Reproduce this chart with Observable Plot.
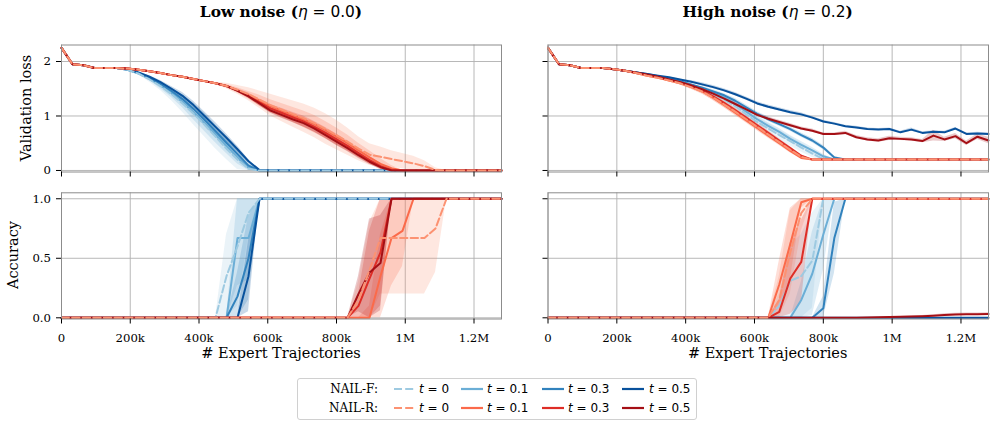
<!DOCTYPE html>
<html><head><meta charset="utf-8">
<script src="https://cdn.jsdelivr.net/npm/d3@7"></script>
<script src="https://cdn.jsdelivr.net/npm/@observablehq/plot@0.6"></script>
<style>
body{margin:0;background:#fff;}
#wrap{position:relative;width:995px;height:428px;overflow:hidden;font-family:"DejaVu Serif",serif;color:#000;}
.panel{position:absolute;}
.panel text{font-family:"DejaVu Serif",serif;}
.title{position:absolute;top:3px;transform:translateX(-50%);white-space:nowrap;font:bold 15.4px "DejaVu Serif";}
.math{font-family:"DejaVu Sans";font-weight:normal;}
.xlab{position:absolute;top:345px;transform:translateX(-50%);white-space:nowrap;font:14.5px "DejaVu Serif";}
.ylab{position:absolute;white-space:nowrap;font:14.5px "DejaVu Serif";line-height:1;transform:translate(-50%,-50%) rotate(-90deg);}
#legend{position:absolute;left:297px;top:378px;width:400px;height:42px;border:1px solid #d0d0d0;border-radius:3px;box-sizing:border-box;}
.lg{position:absolute;white-space:nowrap;font-size:12px;line-height:1;transform:translateY(-50%);}
.lgm{font-family:"DejaVu Sans";}
</style></head>
<body><div id="wrap"></div>
<script>
// ---------- x grid (thousands of expert trajectories) ----------
const xK = [0,32,64,96,128,160,192,224,256,288,
  320,352,384,416,448,480,512,544,576,608,
  640,672,704,736,768,800,832,864,896,928,
  960,992,1024,1056,1088,1120,1152,1184,1216,1248,
  1280];
const xTicks = [0,200000,400000,600000,800000,1000000,1200000];
const xTickLabels = ["0","200k","400k","600k","800k","1M","1.2M"];
const lossTicks = [0,1,2];
const lossTickLabels = ["0","1","2"];
const accTicks = [0,0.5,1];
const accTickLabels = ["0.0","0.5","1.0"];
const tValues = ["0","0.1","0.3","0.5"];
const methods = ["NAIL-F:","NAIL-R:"];
const colorsF = ["#9ecae1","#6baed6","#3182bd","#08519c"];
const colorsR = ["#fc9272","#fb6a4a","#de2d26","#a50f15"];

// ---------- Low noise: validation loss ----------
const lossLoF0 = [2.25,1.95,1.93,1.88,1.88,1.88,1.85,1.78,1.67,1.55,
  1.40,1.23,1.04,0.84,0.62,0.40,0.20,0.03,0,0,
  0,0,0,0,0,0,0,0,0,0, 0,0,0,0,0,0,0,0,0,0, 0];
const lossLoF1 = [2.25,1.95,1.93,1.88,1.88,1.88,1.85,1.78,1.68,1.56,
  1.42,1.26,1.07,0.87,0.66,0.45,0.24,0.05,0,0,
  0,0,0,0,0,0,0,0,0,0, 0,0,0,0,0,0,0,0,0,0, 0];
const lossLoF3 = [2.25,1.95,1.93,1.88,1.88,1.88,1.85,1.79,1.70,1.59,
  1.46,1.31,1.13,0.93,0.72,0.51,0.30,0.09,0,0,
  0,0,0,0,0,0,0,0,0,0, 0,0,0,0,0,0,0,0,0,0, 0];
const lossLoF5 = [2.25,1.95,1.93,1.88,1.88,1.88,1.86,1.80,1.72,1.62,
  1.50,1.37,1.20,1.00,0.80,0.60,0.39,0.17,0.01,0,
  0,0,0,0,0,0,0,0,0,0, 0,0,0,0,0,0,0,0,0,0, 0];
const lossLoF0sd = [0,0,0,0,0,0,0,0.02,0.05,0.08,
  0.12,0.16,0.20,0.22,0.22,0.20,0.18,0.10,0.02,0,
  0,0,0,0,0,0,0,0,0,0, 0,0,0,0,0,0,0,0,0,0, 0];
const lossLoF1sd = [0,0,0,0,0,0,0,0.01,0.03,0.06,
  0.08,0.11,0.14,0.15,0.15,0.14,0.12,0.07,0.01,0,
  0,0,0,0,0,0,0,0,0,0, 0,0,0,0,0,0,0,0,0,0, 0];
const lossLoF3sd = [0,0,0,0,0,0,0,0.01,0.02,0.04,
  0.06,0.08,0.10,0.11,0.11,0.10,0.09,0.05,0.01,0,
  0,0,0,0,0,0,0,0,0,0, 0,0,0,0,0,0,0,0,0,0, 0];
const lossLoF5sd = [0,0,0,0,0,0,0,0,0.02,0.03,
  0.04,0.06,0.07,0.08,0.08,0.07,0.06,0.03,0,0,
  0,0,0,0,0,0,0,0,0,0, 0,0,0,0,0,0,0,0,0,0, 0];
const lossLoR0 = [2.25,1.95,1.93,1.88,1.88,1.88,1.87,1.85,1.82,1.79,
  1.75,1.72,1.68,1.64,1.60,1.55,1.48,1.40,1.30,1.20,
  1.12,1.04,0.96,0.87,0.76,0.65,0.53,0.40,0.29,0.25,
  0.21,0.17,0.13,0.08,0.01,0,0,0,0,0, 0];
const lossLoR1 = [2.25,1.95,1.93,1.88,1.88,1.88,1.87,1.85,1.82,1.79,
  1.75,1.72,1.68,1.64,1.60,1.55,1.47,1.38,1.28,1.18,
  1.10,1.02,0.94,0.85,0.74,0.62,0.50,0.37,0.24,0.12,
  0.04,0,0,0,0,0,0,0,0,0, 0];
const lossLoR3 = [2.25,1.95,1.93,1.88,1.88,1.88,1.87,1.85,1.82,1.79,
  1.75,1.72,1.68,1.64,1.60,1.55,1.47,1.37,1.25,1.14,
  1.06,0.98,0.90,0.80,0.69,0.57,0.45,0.32,0.19,0.08,
  0.01,0,0,0,0,0,0,0,0,0, 0];
const lossLoR5 = [2.25,1.95,1.93,1.88,1.88,1.88,1.87,1.85,1.82,1.79,
  1.75,1.72,1.68,1.64,1.60,1.55,1.46,1.36,1.23,1.10,
  1.02,0.94,0.87,0.77,0.65,0.53,0.41,0.28,0.16,0.06,
  0,0,0,0,0,0,0,0,0,0, 0];
const lossLoR0sd = [0,0,0,0,0,0,0,0,0,0,
  0,0,0,0,0.02,0.05,0.08,0.12,0.16,0.20,
  0.22,0.24,0.26,0.27,0.28,0.27,0.25,0.22,0.20,0.18,
  0.15,0.14,0.13,0.10,0.04,0,0,0,0,0, 0];
const lossLoR1sd = [0,0,0,0,0,0,0,0,0,0,
  0,0,0,0,0,0.03,0.05,0.07,0.10,0.12,
  0.13,0.14,0.15,0.16,0.16,0.16,0.15,0.13,0.12,0.10,
  0.05,0,0,0,0,0,0,0,0,0, 0];
const lossLoR3sd = [0,0,0,0,0,0,0,0,0,0,
  0,0,0,0,0,0,0.03,0.05,0.06,0.07,
  0.08,0.09,0.10,0.10,0.10,0.10,0.09,0.08,0.07,0.05,
  0.01,0,0,0,0,0,0,0,0,0, 0];
const lossLoR5sd = [0,0,0,0,0,0,0,0,0,0,
  0,0,0,0,0,0,0.02,0.03,0.04,0.05,
  0.06,0.06,0.07,0.07,0.07,0.07,0.06,0.06,0.05,0.04,
  0,0,0,0,0,0,0,0,0,0, 0];

// ---------- Low noise: accuracy ----------
const accLoF0 = [0,0,0,0,0,0,0,0,0,0, 0,0,0,0,0,0.35,0.60,0.88,1,1,
  1,1,1,1,1,1,1,1,1,1, 1,1,1,1,1,1,1,1,1,1, 1];
const accLoF1 = [0,0,0,0,0,0,0,0,0,0, 0,0,0,0,0,0,0.67,0.67,1,1,
  1,1,1,1,1,1,1,1,1,1, 1,1,1,1,1,1,1,1,1,1, 1];
const accLoF3 = [0,0,0,0,0,0,0,0,0,0, 0,0,0,0,0,0,0.18,0.50,1,1,
  1,1,1,1,1,1,1,1,1,1, 1,1,1,1,1,1,1,1,1,1, 1];
const accLoF5 = [0,0,0,0,0,0,0,0,0,0, 0,0,0,0,0,0,0,0.35,1,1,
  1,1,1,1,1,1,1,1,1,1, 1,1,1,1,1,1,1,1,1,1, 1];
const accLoF0sd = [0,0,0,0,0,0,0,0,0,0, 0,0,0,0,0,0.35,0.50,0.20,0,0,
  0,0,0,0,0,0,0,0,0,0, 0,0,0,0,0,0,0,0,0,0, 0];
const accLoF1sd = [0,0,0,0,0,0,0,0,0,0, 0,0,0,0,0,0,0.40,0.35,0,0,
  0,0,0,0,0,0,0,0,0,0, 0,0,0,0,0,0,0,0,0,0, 0];
const accLoF3sd = [0,0,0,0,0,0,0,0,0,0, 0,0,0,0,0,0,0.20,0.35,0,0,
  0,0,0,0,0,0,0,0,0,0, 0,0,0,0,0,0,0,0,0,0, 0];
const accLoF5sd = [0,0,0,0,0,0,0,0,0,0, 0,0,0,0,0,0,0,0.30,0,0,
  0,0,0,0,0,0,0,0,0,0, 0,0,0,0,0,0,0,0,0,0, 0];
const accLoR0 = [0,0,0,0,0,0,0,0,0,0, 0,0,0,0,0,0,0,0,0,0,
  0,0,0,0,0,0,0,0.15,0.40,0.67, 0.67,0.67,0.67,0.67,0.75,1,1,1,1,1, 1];
const accLoR1 = [0,0,0,0,0,0,0,0,0,0, 0,0,0,0,0,0,0,0,0,0,
  0,0,0,0,0,0,0,0,0,0.35, 0.67,0.73,1,1,1,1,1,1,1,1, 1];
const accLoR3 = [0,0,0,0,0,0,0,0,0,0, 0,0,0,0,0,0,0,0,0,0,
  0,0,0,0,0,0,0,0.10,0.33,0.55, 1,1,1,1,1,1,1,1,1,1, 1];
const accLoR5 = [0,0,0,0,0,0,0,0,0,0, 0,0,0,0,0,0,0,0,0,0,
  0,0,0,0,0,0,0,0.20,0.38,0.46, 1,1,1,1,1,1,1,1,1,1, 1];
const accLoR0sd = [0,0,0,0,0,0,0,0,0,0, 0,0,0,0,0,0,0,0,0,0,
  0,0,0,0,0,0,0,0.15,0.40,0.47, 0.47,0.47,0.47,0.47,0.37,0,0,0,0,0, 0];
const accLoR1sd = [0,0,0,0,0,0,0,0,0,0, 0,0,0,0,0,0,0,0,0,0,
  0,0,0,0,0,0,0,0,0.10,0.35, 0.40,0.30,0,0,0,0,0,0,0,0, 0];
const accLoR3sd = [0,0,0,0,0,0,0,0,0,0, 0,0,0,0,0,0,0,0,0,0,
  0,0,0,0,0,0,0,0.10,0.40,0.45, 0,0,0,0,0,0,0,0,0,0, 0];
const accLoR5sd = [0,0,0,0,0,0,0,0,0,0, 0,0,0,0,0,0,0,0,0,0,
  0,0,0,0,0,0,0,0.15,0.45,0.40, 0,0,0,0,0,0,0,0,0,0, 0];

// ---------- High noise: validation loss ----------
const lossHiF0 = [2.25,1.95,1.93,1.88,1.88,1.88,1.86,1.83,1.79,1.75,
  1.71,1.66,1.60,1.54,1.48,1.40,1.30,1.18,1.03,0.89,
  0.77,0.65,0.54,0.42,0.31,0.21,0.20,0.20,0.20,0.20,
  0.20,0.20,0.20,0.20,0.20,0.20,0.20,0.20,0.20,0.20, 0.20];
const lossHiF1 = [2.25,1.95,1.93,1.88,1.88,1.88,1.86,1.83,1.80,1.76,
  1.72,1.68,1.63,1.57,1.50,1.42,1.34,1.22,1.08,0.94,
  0.82,0.71,0.58,0.47,0.37,0.26,0.20,0.20,0.20,0.20,
  0.20,0.20,0.20,0.20,0.20,0.20,0.20,0.20,0.20,0.20, 0.20];
const lossHiF3 = [2.25,1.95,1.93,1.88,1.88,1.88,1.86,1.83,1.80,1.77,
  1.73,1.69,1.64,1.58,1.52,1.45,1.38,1.28,1.16,1.04,
  0.94,0.85,0.76,0.65,0.55,0.42,0.24,0.20,0.20,0.20,
  0.20,0.20,0.20,0.20,0.20,0.20,0.20,0.20,0.20,0.20, 0.20];
const lossHiF5 = [2.25,1.95,1.93,1.88,1.88,1.88,1.86,1.83,1.80,1.77,
  1.74,1.71,1.67,1.63,1.58,1.53,1.47,1.40,1.32,1.23,
  1.17,1.12,1.07,1.03,0.97,0.90,0.86,0.81,0.79,0.76,
  0.75,0.76,0.70,0.75,0.69,0.71,0.70,0.77,0.67,0.68, 0.67];
const lossHiF0sd = [0,0,0,0,0,0,0,0,0,0,
  0,0,0.02,0.03,0.04,0.05,0.06,0.07,0.08,0.09,
  0.09,0.09,0.09,0.08,0.07,0.04,0,0,0,0,
  0,0,0,0,0,0,0,0,0,0, 0];
const lossHiF1sd = [0,0,0,0,0,0,0,0,0,0,
  0,0,0,0,0.03,0.04,0.05,0.06,0.06,0.06,
  0.06,0.06,0.06,0.06,0.05,0.04,0,0,0,0,
  0,0,0,0,0,0,0,0,0,0, 0];
const lossHiF3sd = [0,0,0,0,0,0,0,0,0,0,
  0,0,0,0,0.02,0.03,0.03,0.04,0.04,0.04,
  0.04,0.04,0.04,0.04,0.04,0.04,0.02,0,0,0,
  0,0,0,0,0,0,0,0,0,0, 0];
const lossHiF5sd = [0,0,0,0,0,0,0,0,0,0,
  0,0,0,0.02,0.03,0.03,0.03,0.03,0.03,0.03,
  0.03,0.03,0.03,0.03,0.02,0.02,0.02,0.02,0.02,0.02,
  0.02,0.02,0.02,0.03,0.02,0.02,0.02,0.02,0.02,0.02, 0.02];
const lossHiR0 = [2.25,1.95,1.93,1.88,1.88,1.88,1.86,1.83,1.79,1.74,
  1.70,1.65,1.60,1.53,1.45,1.34,1.21,1.08,0.94,0.80,
  0.66,0.52,0.38,0.25,0.20,0.20,0.20,0.20,0.20,0.20,
  0.20,0.20,0.20,0.20,0.20,0.20,0.20,0.20,0.20,0.20, 0.20];
const lossHiR1 = [2.25,1.95,1.93,1.88,1.88,1.88,1.86,1.83,1.79,1.74,
  1.70,1.65,1.60,1.53,1.45,1.33,1.20,1.06,0.92,0.78,
  0.64,0.50,0.36,0.23,0.20,0.20,0.20,0.20,0.20,0.20,
  0.20,0.20,0.20,0.20,0.20,0.20,0.20,0.20,0.20,0.20, 0.20];
const lossHiR3 = [2.25,1.95,1.93,1.88,1.88,1.88,1.86,1.83,1.79,1.75,
  1.71,1.66,1.62,1.56,1.47,1.36,1.24,1.11,0.97,0.83,
  0.69,0.55,0.41,0.27,0.20,0.20,0.20,0.20,0.20,0.20,
  0.20,0.20,0.20,0.20,0.20,0.20,0.20,0.20,0.20,0.20, 0.20];
const lossHiR5 = [2.25,1.95,1.93,1.88,1.88,1.88,1.86,1.83,1.80,1.76,
  1.72,1.67,1.62,1.56,1.49,1.41,1.32,1.22,1.12,1.02,
  0.95,0.89,0.83,0.77,0.73,0.67,0.67,0.69,0.61,0.57,
  0.55,0.59,0.58,0.57,0.54,0.64,0.57,0.63,0.50,0.62, 0.55];
const lossHiR0sd = [0,0,0,0,0,0,0,0,0,0,
  0,0.02,0.03,0.04,0.05,0.05,0.06,0.06,0.06,0.06,
  0.06,0.05,0.05,0.03,0,0,0,0,0,0,
  0,0,0,0,0,0,0,0,0,0, 0];
const lossHiR1sd = [0,0,0,0,0,0,0,0,0,0,
  0,0.02,0.03,0.04,0.04,0.05,0.05,0.05,0.05,0.05,
  0.05,0.04,0.04,0.02,0,0,0,0,0,0,
  0,0,0,0,0,0,0,0,0,0, 0];
const lossHiR3sd = [0,0,0,0,0,0,0,0,0,0,
  0,0,0.02,0.03,0.03,0.03,0.04,0.04,0.04,0.04,
  0.04,0.03,0.03,0.02,0,0,0,0,0,0,
  0,0,0,0,0,0,0,0,0,0, 0];
const lossHiR5sd = [0,0,0,0,0,0,0,0,0,0,
  0,0,0,0.02,0.03,0.03,0.03,0.03,0.03,0.03,
  0.03,0.03,0.03,0.03,0.03,0.02,0.02,0.03,0.03,0.03,
  0.03,0.04,0.03,0.03,0.03,0.10,0.04,0.05,0.04,0.05, 0.06];

// ---------- High noise: accuracy ----------
const accHiF0 = [0,0,0,0,0,0,0,0,0,0, 0,0,0,0,0,0,0,0,0,0,
  0,0.10,0.31,0.35,0.48,1,1,1,1,1, 1,1,1,1,1,1,1,1,1,1, 1];
const accHiF1 = [0,0,0,0,0,0,0,0,0,0, 0,0,0,0,0,0,0,0,0,0,
  0,0,0,0.15,0.37,0.70,1,1,1,1, 1,1,1,1,1,1,1,1,1,1, 1];
const accHiF3 = [0,0,0,0,0,0,0,0,0,0, 0,0,0,0,0,0,0,0,0,0,
  0,0,0,0,0,0.08,0.67,1,1,1, 1,1,1,1,1,1,1,1,1,1, 1];
const accHiF5 = [0,0,0,0,0,0,0,0,0,0, 0,0,0,0,0,0,0,0,0,0,
  0,0,0,0,0,0,0,0,0,0, 0,0,0,0,0,0,0,0,0,0, 0];
const accHiF0sd = [0,0,0,0,0,0,0,0,0,0, 0,0,0,0,0,0,0,0,0,0,
  0,0.10,0.30,0.35,0.40,0,0,0,0,0, 0,0,0,0,0,0,0,0,0,0, 0];
const accHiF1sd = [0,0,0,0,0,0,0,0,0,0, 0,0,0,0,0,0,0,0,0,0,
  0,0,0,0.15,0.35,0.30,0,0,0,0, 0,0,0,0,0,0,0,0,0,0, 0];
const accHiF3sd = [0,0,0,0,0,0,0,0,0,0, 0,0,0,0,0,0,0,0,0,0,
  0,0,0,0,0,0.10,0.30,0,0,0, 0,0,0,0,0,0,0,0,0,0, 0];
const accHiF5sd = [0,0,0,0,0,0,0,0,0,0, 0,0,0,0,0,0,0,0,0,0,
  0,0,0,0,0,0,0,0,0,0, 0,0,0,0,0,0,0,0,0,0, 0];
const accHiR0 = [0,0,0,0,0,0,0,0,0,0, 0,0,0,0,0,0,0,0,0,0,
  0,0.15,0.55,0.88,1,1,1,1,1,1, 1,1,1,1,1,1,1,1,1,1, 1];
const accHiR1 = [0,0,0,0,0,0,0,0,0,0, 0,0,0,0,0,0,0,0,0,0,
  0,0.28,0.62,0.97,1,1,1,1,1,1, 1,1,1,1,1,1,1,1,1,1, 1];
const accHiR3 = [0,0,0,0,0,0,0,0,0,0, 0,0,0,0,0,0,0,0,0,0,
  0,0.05,0.33,0.47,1,1,1,1,1,1, 1,1,1,1,1,1,1,1,1,1, 1];
const accHiR5 = [0,0,0,0,0,0,0,0,0,0, 0,0,0,0,0,0,0,0,0,0,
  0,0,0,0,0,0,0,0,0,0.002, 0.004,0.006,0.008,0.010,0.013,0.018,0.024,0.028,0.030,0.030, 0.032];
const accHiR0sd = [0,0,0,0,0,0,0,0,0,0, 0,0,0,0,0,0,0,0,0,0,
  0,0.20,0.35,0.15,0,0,0,0,0,0, 0,0,0,0,0,0,0,0,0,0, 0];
const accHiR1sd = [0,0,0,0,0,0,0,0,0,0, 0,0,0,0,0,0,0,0,0,0,
  0,0.20,0.30,0.05,0,0,0,0,0,0, 0,0,0,0,0,0,0,0,0,0, 0];
const accHiR3sd = [0,0,0,0,0,0,0,0,0,0, 0,0,0,0,0,0,0,0,0,0,
  0,0.10,0.30,0.35,0,0,0,0,0,0, 0,0,0,0,0,0,0,0,0,0, 0];
const accHiR5sd = [0,0,0,0,0,0,0,0,0,0, 0,0,0,0,0,0,0,0,0,0,
  0,0,0,0,0,0,0,0,0,0, 0,0.002,0.004,0.005,0.006,0.008,0.010,0.010,0.010,0.010, 0.010];

// ---------- build ----------
const allArrays = {lossLoF0,lossLoF1,lossLoF3,lossLoF5,lossLoF0sd,lossLoF1sd,lossLoF3sd,lossLoF5sd,
  lossLoR0,lossLoR1,lossLoR3,lossLoR5,lossLoR0sd,lossLoR1sd,lossLoR3sd,lossLoR5sd,
  accLoF0,accLoF1,accLoF3,accLoF5,accLoF0sd,accLoF1sd,accLoF3sd,accLoF5sd,
  accLoR0,accLoR1,accLoR3,accLoR5,accLoR0sd,accLoR1sd,accLoR3sd,accLoR5sd,
  lossHiF0,lossHiF1,lossHiF3,lossHiF5,lossHiF0sd,lossHiF1sd,lossHiF3sd,lossHiF5sd,
  lossHiR0,lossHiR1,lossHiR3,lossHiR5,lossHiR0sd,lossHiR1sd,lossHiR3sd,lossHiR5sd,
  accHiF0,accHiF1,accHiF3,accHiF5,accHiF0sd,accHiF1sd,accHiF3sd,accHiF5sd,
  accHiR0,accHiR1,accHiR3,accHiR5,accHiR0sd,accHiR1sd,accHiR3sd,accHiR5sd};
const bad = Object.entries(allArrays).filter(([k,v]) => v.length !== xK.length).map(([k,v]) => k + ":" + v.length);
if (bad.length) throw new Error("length mismatch " + bad.join(", "));

function makeSeries(means, sds, lo, hi) {
  const out = [];
  ["F","R"].forEach((m, mi) => {
    for (let k = 0; k < 4; k++) {
      const mean = means[mi][k], sd = sds[mi][k];
      const rows = xK.map((x, i) => ({x: x * 1000, y: mean[i],
        lo: Math.max(lo, mean[i] - sd[i]), hi: Math.min(hi, mean[i] + sd[i])}));
      out.push({method: m, k, rows, color: (m === "F" ? colorsF : colorsR)[k], dash: k === 0});
    }
  });
  return out;
}

const panels = [
  {series: makeSeries([[lossLoF0,lossLoF1,lossLoF3,lossLoF5],[lossLoR0,lossLoR1,lossLoR3,lossLoR5]],
     [[lossLoF0sd,lossLoF1sd,lossLoF3sd,lossLoF5sd],[lossLoR0sd,lossLoR1sd,lossLoR3sd,lossLoR5sd]], 0, 10),
   col: "L", row: "T"},
  {series: makeSeries([[lossHiF0,lossHiF1,lossHiF3,lossHiF5],[lossHiR0,lossHiR1,lossHiR3,lossHiR5]],
     [[lossHiF0sd,lossHiF1sd,lossHiF3sd,lossHiF5sd],[lossHiR0sd,lossHiR1sd,lossHiR3sd,lossHiR5sd]], 0, 10),
   col: "R", row: "T"},
  {series: makeSeries([[accLoF0,accLoF1,accLoF3,accLoF5],[accLoR0,accLoR1,accLoR3,accLoR5]],
     [[accLoF0sd,accLoF1sd,accLoF3sd,accLoF5sd],[accLoR0sd,accLoR1sd,accLoR3sd,accLoR5sd]], 0, 1),
   col: "L", row: "B"},
  {series: makeSeries([[accHiF0,accHiF1,accHiF3,accHiF5],[accHiR0,accHiR1,accHiR3,accHiR5]],
     [[accHiF0sd,accHiF1sd,accHiF3sd,accHiF5sd],[accHiR0sd,accHiR1sd,accHiR3sd,accHiR5sd]], 0, 1),
   col: "R", row: "B"}
];

const COLS = {L: {left: 0, width: 520, mL: 61, mR: 19}, R: {left: 520, width: 475, mL: 27.5, mR: 7}};
const ROWS = {T: {top: 0, height: 185, mT: 44.5, mB: 13.5, domain: [-0.028, 2.303], ticks: lossTicks, labels: lossTickLabels},
              B: {top: 185, height: 190, mT: 7.3, mB: 56.5, domain: [-0.01, 1.05], ticks: accTicks, labels: accTickLabels}};

const wrap = document.getElementById("wrap");
const lineOrder = [["F",1],["F",2],["F",3],["F",0],["R",1],["R",2],["R",3],["R",0]];
const bandOrder = [["F",0],["F",1],["F",2],["F",3],["R",0],["R",1],["R",2],["R",3]];
const axisFont = {fontFamily: "DejaVu Serif", fontSize: 11.7, fill: "#000"};

for (const p of panels) {
  const c = COLS[p.col], r = ROWS[p.row];
  const showX = p.row === "B", showY = p.col === "L";
  const find = ([m, k]) => p.series.find(s => s.method === m && s.k === k);
  const marks = [
    Plot.gridX(xTicks, {stroke: "#b0b0b0", strokeOpacity: 1, strokeWidth: 0.9}),
    Plot.gridY(r.ticks, {stroke: "#b0b0b0", strokeOpacity: 1, strokeWidth: 0.9})
  ];
  for (const key of bandOrder) {
    const s = find(key);
    marks.push(Plot.areaY(s.rows, {x: "x", y1: "lo", y2: "hi", fill: s.color, fillOpacity: 0.22}));
  }
  for (const key of lineOrder) {
    const s = find(key);
    marks.push(Plot.line(s.rows, {x: "x", y: "y", stroke: s.color, strokeWidth: 2,
      ...(s.dash ? {strokeDasharray: "7.4,3.2"} : {})}));
  }
  marks.push(Plot.frame({stroke: "#8c8c8c", strokeWidth: 1}));
  marks.push(Plot.axisX(xTicks, {tickSize: 5, tickPadding: 9.5, label: null, ...axisFont, stroke: "#000",
    tickFormat: showX ? (d => xTickLabels[xTicks.indexOf(d)]) : (() => "")}));
  marks.push(Plot.axisY(r.ticks, {tickSize: 5, tickPadding: 5.5, label: null, ...axisFont, stroke: "#000",
    tickFormat: showY ? (d => r.labels[r.ticks.indexOf(d)]) : (() => "")}));
  const svg = Plot.plot({
    width: c.width, height: r.height,
    marginLeft: c.mL, marginRight: c.mR, marginTop: r.mT, marginBottom: r.mB,
    x: {domain: [0, 1280000]},
    y: {domain: r.domain},
    style: {fontFamily: "DejaVu Serif", fontSize: "11.7px", background: "transparent", overflow: "visible", color: "#000"},
    marks
  });
  svg.classList.add("panel");
  svg.style.left = c.left + "px";
  svg.style.top = r.top + "px";
  wrap.appendChild(svg);
}

// ---------- titles and axis labels ----------
function addDiv(cls, html, css) {
  const d = document.createElement("div");
  d.className = cls; d.innerHTML = html; Object.assign(d.style, css); wrap.appendChild(d); return d;
}
addDiv("title", 'Low noise (<span class="math"><i>η</i> = 0.0</span>)', {left: "281px"});
addDiv("title", 'High noise (<span class="math"><i>η</i> = 0.2</span>)', {left: "767.7px"});
addDiv("xlab", "# Expert Trajectories", {left: "281px"});
addDiv("xlab", "# Expert Trajectories", {left: "767.7px"});
addDiv("ylab", "Validation loss", {left: "26px", top: "108px"});
addDiv("ylab", "Accuracy", {left: "12.5px", top: "255.4px"});

// ---------- legend ----------
const legend = document.createElement("div");
legend.id = "legend"; wrap.appendChild(legend);
const rowY = [9.5, 28.5];
const sampleX = [96, 163, 244, 324];
const textX = [121, 189, 270, 351];
methods.forEach((name, mi) => {
  const lab = document.createElement("div");
  lab.className = "lg"; lab.textContent = name;
  Object.assign(lab.style, {right: (400 - 2 - 80) + "px", top: rowY[mi] + "px"});
  legend.appendChild(lab);
  const cols = mi === 0 ? colorsF : colorsR;
  tValues.forEach((t, k) => {
    const ns = "http://www.w3.org/2000/svg";
    const sv = document.createElementNS(ns, "svg");
    sv.setAttribute("width", 22); sv.setAttribute("height", 6);
    Object.assign(sv.style, {position: "absolute", left: sampleX[k] + "px", top: (rowY[mi] - 3) + "px"});
    const ln = document.createElementNS(ns, "line");
    ln.setAttribute("x1", 0); ln.setAttribute("x2", 22); ln.setAttribute("y1", 3); ln.setAttribute("y2", 3);
    ln.setAttribute("stroke", cols[k]); ln.setAttribute("stroke-width", 2.2);
    if (k === 0) ln.setAttribute("stroke-dasharray", "8,3.2");
    sv.appendChild(ln); legend.appendChild(sv);
    const tx = document.createElement("div");
    tx.className = "lg lgm"; tx.innerHTML = "<i>t</i> = " + t;
    Object.assign(tx.style, {left: textX[k] + "px", top: rowY[mi] + "px"});
    legend.appendChild(tx);
  });
});
</script></body></html>
